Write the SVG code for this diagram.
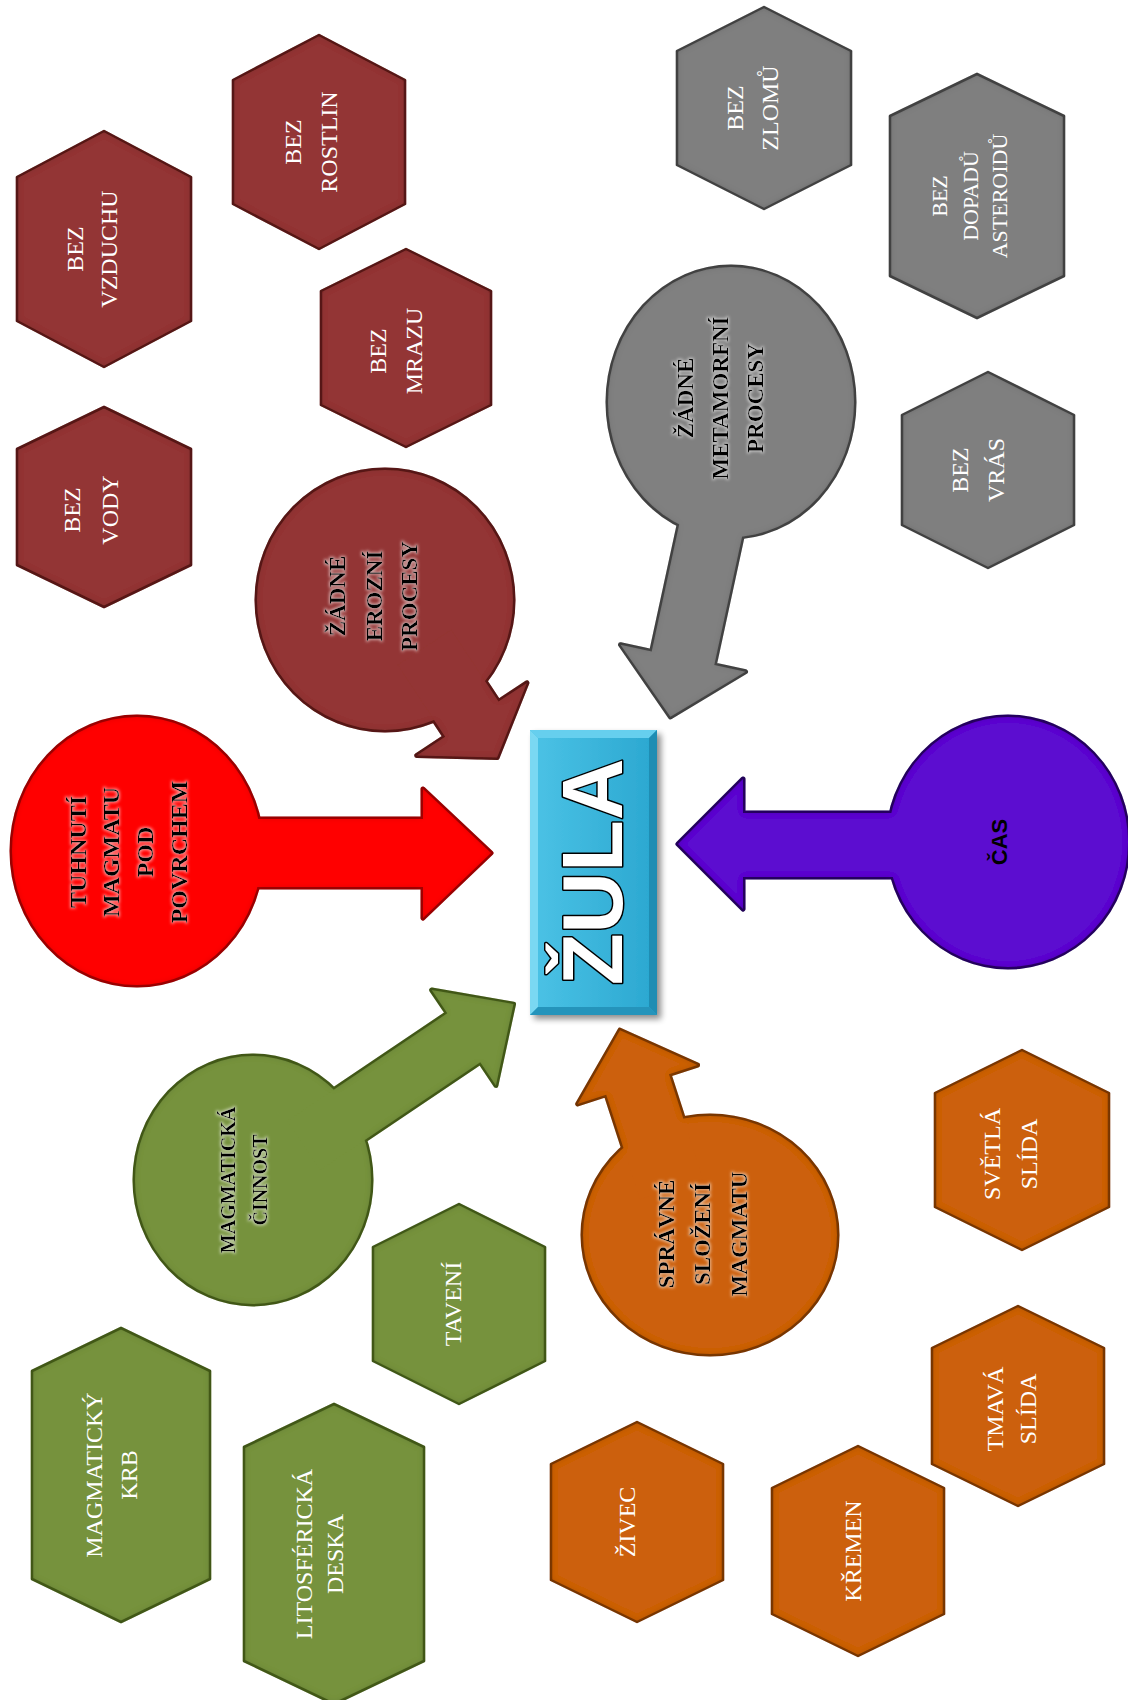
<svg xmlns="http://www.w3.org/2000/svg" width="1128" height="1700" viewBox="0 0 1128 1700">
<defs>
<style>
.hx{stroke-width:2.5;stroke-linejoin:round;filter:url(#inner)}
.red{fill:#933634;stroke:#5e1c1a}
.gray{fill:#7f7f7f;stroke:#4a4a4a}
.green{fill:#76923c;stroke:#48611f}
.orange{fill:#cc6009;stroke:#843c05}
.ht{font-family:"Liberation Serif",serif;font-size:24px;fill:#fff;text-anchor:middle}
.ct{font-family:"Liberation Serif",serif;font-weight:bold;font-size:23px;fill:#000;text-anchor:middle;filter:url(#glow)}
.s{stroke-width:5;stroke-linejoin:round}
.f{stroke:none}
.sh{filter:url(#inner)}
</style>
<filter id="inner" x="-10%" y="-10%" width="120%" height="120%">
<feFlood flood-color="#000" flood-opacity="0.45"/>
<feComposite in2="SourceAlpha" operator="out"/>
<feGaussianBlur stdDeviation="3.5"/>
<feComposite in2="SourceAlpha" operator="in" result="shadow"/>
<feMerge><feMergeNode in="SourceGraphic"/><feMergeNode in="shadow"/></feMerge>
</filter>
<filter id="glow" x="-30%" y="-30%" width="160%" height="160%">
<feMorphology in="SourceAlpha" operator="dilate" radius="1.2" result="d"/>
<feGaussianBlur in="d" stdDeviation="1.6" result="b"/>
<feFlood flood-color="#ffffff" flood-opacity="0.55"/>
<feComposite in2="b" operator="in" result="g"/>
<feMerge><feMergeNode in="g"/><feMergeNode in="SourceGraphic"/></feMerge>
</filter>
<filter id="shadow" x="-20%" y="-20%" width="140%" height="140%">
<feGaussianBlur in="SourceAlpha" stdDeviation="3"/>
<feOffset dx="4" dy="4"/>
<feComponentTransfer><feFuncA type="linear" slope="0.45"/></feComponentTransfer>
<feMerge><feMergeNode/><feMergeNode in="SourceGraphic"/></feMerge>
</filter>
<linearGradient id="boxg" x1="0" y1="0" x2="1" y2="0">
<stop offset="0" stop-color="#4cc3e6"/>
<stop offset="1" stop-color="#2aa7d0"/>
</linearGradient>
</defs>
<rect width="1128" height="1700" fill="#fff"/>

<g id="connectors"></g>

<!-- red hexagons -->
<g id="hex-bez-vzduchu"><polygon class="hx red" points="104,131 191,177 191,321 104,367 17,321 17,177"/>
<g transform="translate(104,249) rotate(-90)"><text class="ht" x="0" y="-21">BEZ</text><text class="ht" x="0" y="13">VZDUCHU</text></g></g>
<g id="hex-bez-vody"><polygon class="hx red" points="104,407 191,449 191,565 104,607 17,565 17,449"/>
<g transform="translate(104,507) rotate(-90)"><text class="ht" x="-3" y="-24">BEZ</text><text class="ht" x="-3" y="14">VODY</text></g></g>
<g id="hex-bez-rostlin"><polygon class="hx red" points="319,35 405,80 405,204 319,249 233,204 233,80"/>
<g transform="translate(319,142) rotate(-90)"><text class="ht" x="0" y="-18">BEZ</text><text class="ht" x="0" y="18">ROSTLIN</text></g></g>
<g id="hex-bez-mrazu"><polygon class="hx red" points="406,249 491,291 491,405 406,447 321,405 321,291"/>
<g transform="translate(406,348) rotate(-90)"><text class="ht" x="-3" y="-20">BEZ</text><text class="ht" x="-3" y="16">MRAZU</text></g></g>

<!-- gray hexagons -->
<g id="hex-bez-zlomu"><polygon class="hx gray" points="764,7 851,51 851,165 764,209 677,165 677,51"/>
<g transform="translate(764,108) rotate(-90)"><text class="ht" x="0" y="-21">BEZ</text><text class="ht" x="0" y="14">ZLOMŮ</text></g></g>
<g id="hex-bez-dopadu"><polygon class="hx gray" points="977,74 1064,116 1064,276 977,318 890,276 890,116"/>
<g transform="translate(977,196) rotate(-90)"><text class="ht" x="0" y="-30" style="font-size:22px">BEZ</text><text class="ht" x="0" y="1" style="font-size:22px">DOPADŮ</text><text class="ht" x="0" y="30" style="font-size:22px">ASTEROIDŮ</text></g></g>
<g id="hex-bez-vras"><polygon class="hx gray" points="988,372 1074,415 1074,525 988,568 902,525 902,415"/>
<g transform="translate(988,470) rotate(-90)"><text class="ht" x="0" y="-20">BEZ</text><text class="ht" x="0" y="16">VRÁS</text></g></g>

<!-- green hexagons -->
<g id="hex-magmaticky-krb"><polygon class="hx green" points="121,1328 210,1371 210,1579 121,1622 32,1579 32,1371"/>
<g transform="translate(121,1475) rotate(-90)"><text class="ht" x="0" y="-19">MAGMATICKÝ</text><text class="ht" x="0" y="16">KRB</text></g></g>
<g id="hex-litosfericka-deska"><polygon class="hx green" points="334,1404 424,1447 424,1661 334,1704 244,1661 244,1447"/>
<g transform="translate(334,1554) rotate(-90)"><text class="ht" x="0" y="-22">LITOSFÉRICKÁ</text><text class="ht" x="0" y="9">DESKA</text></g></g>
<g id="hex-taveni"><polygon class="hx green" points="459,1204 545,1247 545,1361 459,1404 373,1361 373,1247"/>
<g transform="translate(459,1304) rotate(-90)"><text class="ht" x="0" y="2">TAVENÍ</text></g></g>

<!-- orange hexagons -->
<g id="hex-svetla-slida"><polygon class="hx orange" points="1022,1050 1109,1093 1109,1207 1022,1250 935,1207 935,1093"/>
<g transform="translate(1022,1150) rotate(-90)"><text class="ht" x="-4" y="-22">SVĚTLÁ</text><text class="ht" x="-4" y="15">SLÍDA</text></g></g>
<g id="hex-tmava-slida"><polygon class="hx orange" points="1018,1306 1104,1348 1104,1464 1018,1506 932,1464 932,1348"/>
<g transform="translate(1018,1406) rotate(-90)"><text class="ht" x="-3" y="-15">TMAVÁ</text><text class="ht" x="-3" y="18">SLÍDA</text></g></g>
<g id="hex-zivec"><polygon class="hx orange" points="637,1422 723,1464 723,1580 637,1622 551,1580 551,1464"/>
<g transform="translate(637,1522) rotate(-90)"><text class="ht" x="0" y="-2">ŽIVEC</text></g></g>
<g id="hex-kremen"><polygon class="hx orange" points="858,1446 944,1488 944,1614 858,1656 772,1614 772,1488"/>
<g transform="translate(858,1551) rotate(-90)"><text class="ht" x="0" y="3">KŘEMEN</text></g></g>

<!-- callouts -->
<g id="callout-tuhnuti">
<g class="sh">
<g class="s" fill="#ff0000" stroke="#a80000"><ellipse cx="137" cy="851" rx="125" ry="134"/><polygon points="230,819 423,819 423,789 491,853 423,918 423,887 230,887"/></g>
<g class="f" fill="#ff0000"><ellipse cx="137" cy="851" rx="125" ry="134"/><polygon points="230,819 423,819 423,789 491,853 423,918 423,887 230,887"/></g>
</g>
<g transform="translate(137,852) rotate(-90)"><text class="ct" x="0" y="-51" style="font-size:24px">TUHNUTÍ</text><text class="ct" x="0" y="-18" style="font-size:24px">MAGMATU</text><text class="ct" x="0" y="16" style="font-size:24px">POD</text><text class="ct" x="0" y="50" style="font-size:24px">POVRCHEM</text></g>
</g>

<g id="callout-eroze">
<g class="sh">
<g class="s" fill="#933634" stroke="#5e1c1a"><ellipse cx="385" cy="600" rx="128" ry="130"/><polygon points="451.2,629.8 498.5,701.6 526.9,682.9 497.1,757.6 416.7,755.5 445.1,736.8 397.8,665"/></g>
<g class="f" fill="#933634"><ellipse cx="385" cy="600" rx="128" ry="130"/><polygon points="451.2,629.8 498.5,701.6 526.9,682.9 497.1,757.6 416.7,755.5 445.1,736.8 397.8,665"/></g>
</g>
<g transform="translate(385,600) rotate(-90)"><text class="ct" x="4" y="-40">ŽÁDNÉ</text><text class="ct" x="4" y="-3">EROZNÍ</text><text class="ct" x="4" y="32">PROCESY</text></g>
</g>

<g id="callout-metamorfoza">
<g class="sh">
<g class="s" fill="#808080" stroke="#4a4a4a"><ellipse cx="731" cy="402" rx="123" ry="135"/><polygon points="690.4,472.7 651.7,651.4 620.5,644.7 670.4,716.8 745.5,671.7 714.3,665 753,486.2"/></g>
<g class="f" fill="#808080"><ellipse cx="731" cy="402" rx="123" ry="135"/><polygon points="690.4,472.7 651.7,651.4 620.5,644.7 670.4,716.8 745.5,671.7 714.3,665 753,486.2"/></g>
</g>
<g transform="translate(731,398) rotate(-90)"><text class="ct" x="0" y="-38">ŽÁDNÉ</text><text class="ct" x="0" y="-3">METAMORFNÍ</text><text class="ct" x="0" y="32">PROCESY</text></g>
</g>

<g id="callout-cas">
<g class="sh">
<g class="s" fill="#5c0fd0" stroke="#2c0668"><ellipse cx="1008" cy="842" rx="120" ry="125"/><polygon points="900,813 743,813 743,779 678,844 743,909 743,877 900,877"/></g>
<g class="f" fill="#5c0fd0"><ellipse cx="1008" cy="842" rx="120" ry="125"/><polygon points="900,813 743,813 743,779 678,844 743,909 743,877 900,877"/></g>
</g>
<g transform="translate(1008,842) rotate(-90)"><text x="0" y="-1" text-anchor="middle" font-family="Liberation Sans, sans-serif" font-weight="bold" font-size="22" fill="#000">ČAS</text></g>
</g>

<g id="callout-magmaticka-cinnost">
<g class="sh">
<g class="s" fill="#76923c" stroke="#48611f"><ellipse cx="253" cy="1180" rx="118" ry="124"/><polygon points="287.3,1121 447.3,1013.2 431.7,990 513.5,1004.1 495.9,1085.4 480.3,1062.2 320.3,1170"/></g>
<g class="f" fill="#76923c"><ellipse cx="253" cy="1180" rx="118" ry="124"/><polygon points="287.3,1121 447.3,1013.2 431.7,990 513.5,1004.1 495.9,1085.4 480.3,1062.2 320.3,1170"/></g>
</g>
<g transform="translate(253,1180) rotate(-90)"><text class="ct" x="0" y="-18" style="font-size:20px">MAGMATICKÁ</text><text class="ct" x="0" y="14" style="font-size:20px">ČINNOST</text></g>
</g>

<g id="callout-slozeni">
<g class="sh">
<g class="s" fill="#cc6009" stroke="#843c05"><ellipse cx="710" cy="1235" rx="127" ry="119"/><polygon points="640.1,1199.3 606.2,1094.7 577.7,1103.9 620,1030.2 697.5,1065.1 669,1074.3 702.9,1178.9"/></g>
<g class="f" fill="#cc6009"><ellipse cx="710" cy="1235" rx="127" ry="119"/><polygon points="640.1,1199.3 606.2,1094.7 577.7,1103.9 620,1030.2 697.5,1065.1 669,1074.3 702.9,1178.9"/></g>
</g>
<g transform="translate(710,1234) rotate(-90)"><text class="ct" x="0" y="-36">SPRÁVNÉ</text><text class="ct" x="0" y="0">SLOŽENÍ</text><text class="ct" x="0" y="37">MAGMATU</text></g>
</g>

<!-- central node -->
<g id="zula">
<rect x="530" y="730" width="127" height="285" fill="url(#boxg)" filter="url(#shadow)"/>
<polygon points="530,730 538,738 538,1007 530,1015" fill="#7ad8f2"/>
<polygon points="530,730 657,730 649,738 538,738" fill="#66cfee"/>
<polygon points="657,730 657,1015 649,1007 649,738" fill="#1f8db3"/>
<polygon points="530,1015 657,1015 649,1007 538,1007" fill="#2594bb"/>
<g transform="translate(593.5,872) rotate(-90)"><text x="0" y="28" text-anchor="middle" font-family="Liberation Sans, sans-serif" font-weight="bold" font-size="85" fill="#fff" stroke="#000" stroke-width="3" paint-order="stroke" stroke-linejoin="round">ŽULA</text></g>
</g>
</svg>
